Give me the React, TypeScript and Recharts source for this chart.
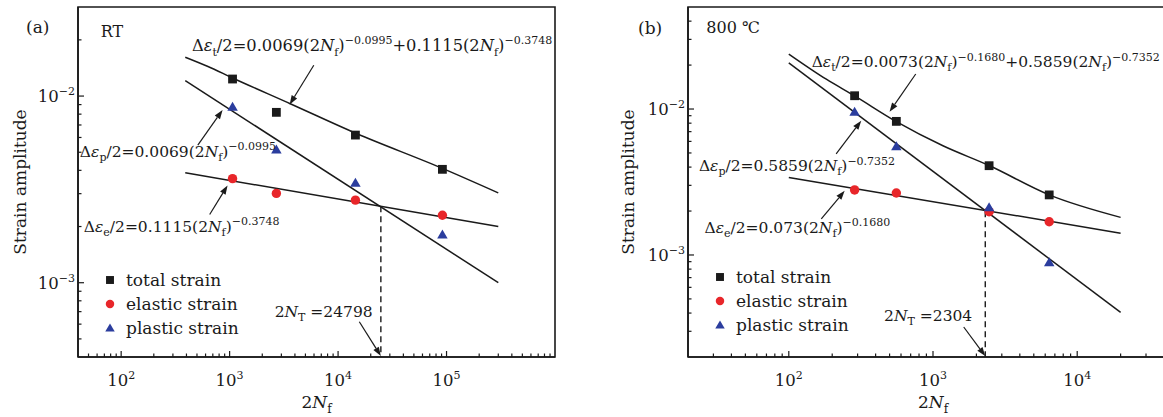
import React from 'react';
import {
  ComposedChart,
  Line,
  Scatter,
  XAxis,
  YAxis,
  ReferenceLine,
  ReferenceDot,
  ReferenceArea,
  Legend,
} from 'recharts';

const FONT = '"DejaVu Serif", serif';
const INK = '#1a1a1a';
const RED = '#e8262a';
const BLUE = '#2b3d9e';

// (a) RT — measured points
const nfA = [1064, 2698, 14450, 91600];
const totalA = [0.01234, 0.00818, 0.00618, 0.00405];
const elasticA = [0.00361, 0.00301, 0.00277, 0.0023];
const plasticA = [0.00877, 0.00518, 0.00343, 0.00181];
// (a) fitted lines
const fitNfA = [390, 300000];
const elasticFitA = [0.00388, 0.002];
const plasticFitA = [0.0121, 0.001];
const curveNfA = [390, 631, 1064, 3622, 14770, 91600, 300000];
const totalFitA = [0.01615, 0.0144, 0.0125, 0.0091, 0.0063, 0.0041, 0.00303];
const transA = { nf: 24798, strain: 0.00257 };

// (b) 800 ℃ — measured points
const nfB = [286, 557, 2449, 6395];
const totalB = [0.01233, 0.00823, 0.00409, 0.00258];
const elasticB = [0.00279, 0.00266, 0.00198, 0.00169];
const plasticB = [0.00958, 0.00555, 0.00212, 0.00089];
const fitNfB = [100, 20000];
const elasticFitB = [0.0034, 0.00141];
const plasticFitB = [0.0207, 0.000404];
const curveNfB = [100, 182, 286, 557, 1172, 2449, 6395, 20000];
const totalFitB = [0.0238, 0.016, 0.0123, 0.0082, 0.0056, 0.0041, 0.00258, 0.00181];
const transB = { nf: 2304, strain: 0.00199 };

const seriesOrder = ['total strain', 'elastic strain', 'plastic strain'];

const pts = (xs: number[], ys: number[]) => xs.map((x, i) => ({ x, y: ys[i] }));

const logTicks = (lo: number, hi: number) => {
  const out: number[] = [];
  for (let e = Math.floor(Math.log10(lo)); e <= Math.ceil(Math.log10(hi)); e++) {
    for (let m = 1; m <= 9; m++) {
      const v = Number((m * Math.pow(10, e)).toPrecision(6));
      if (v > lo * 1.0001 && v < hi * 0.9999) out.push(v);
    }
  }
  return out;
};
const isMajor = (v: number) => Math.abs(Math.log10(v) - Math.round(Math.log10(v))) < 1e-9;
const expLabel = (v: number) => {
  const e = Math.round(Math.log10(v));
  return e < 0 ? '\u2212' + Math.abs(e) : String(e);
};

// tiny markup: {i:x} italic, {_:x} subscript, {^:x} superscript
function Rich({ x, y, src, size = 16, anchor = 'start' }: any) {
  const parts: { t: string; k: string }[] = [];
  const re = /\{([i_^]):([^}]*)\}/g;
  let last = 0;
  let m: RegExpExecArray | null;
  while ((m = re.exec(src))) {
    if (m.index > last) parts.push({ t: src.slice(last, m.index), k: 'n' });
    parts.push({ t: m[2], k: m[1] });
    last = re.lastIndex;
  }
  if (last < src.length) parts.push({ t: src.slice(last), k: 'n' });
  let cur = 0;
  const small = Math.round(size * 0.68);
  return (
    <text x={x} y={y} fontFamily={FONT} fontSize={size} fill={INK} textAnchor={anchor}>
      {parts.map((p, i) => {
        const target = p.k === '_' ? size * 0.28 : p.k === '^' ? -size * 0.42 : 0;
        const dy = target - cur;
        cur = target;
        return (
          <tspan
            key={i}
            dy={dy}
            fontStyle={p.k === 'i' ? 'italic' : undefined}
            fontSize={p.k === '_' || p.k === '^' ? small : undefined}
          >
            {p.t}
          </tspan>
        );
      })}
    </text>
  );
}

const XTick = ({ x, y, payload }: any) => {
  const major = isMajor(payload.value);
  return (
    <g>
      <line x1={x} x2={x} y1={y} y2={y - (major ? 6 : 3.5)} stroke={INK} strokeWidth={1.2} />
      {major && (
        <text x={x} y={y + 29} textAnchor="middle" fontFamily={FONT} fontSize={16.5} fill={INK}>
          10<tspan dy={-7} fontSize={11}>{expLabel(payload.value)}</tspan>
        </text>
      )}
    </g>
  );
};

const YTick = ({ x, y, payload }: any) => {
  const major = isMajor(payload.value);
  return (
    <g>
      <line x1={x} x2={x + (major ? 6 : 3.5)} y1={y} y2={y} stroke={INK} strokeWidth={1.2} />
      {major && (
        <text x={x - 3} y={y + 6} textAnchor="end" fontFamily={FONT} fontSize={16.5} fill={INK}>
          10<tspan dy={-7} fontSize={11}>{expLabel(payload.value)}</tspan>
        </text>
      )}
    </g>
  );
};

const marker = (type: string, cx: number, cy: number, s = 1) => {
  if (type === 'square') {
    const h = 4.4 * s;
    return <rect x={cx - h} y={cy - h} width={2 * h} height={2 * h} fill={INK} />;
  }
  if (type === 'circle') return <circle cx={cx} cy={cy} r={4.7 * s} fill={RED} />;
  const h = 5 * s;
  return (
    <polygon
      points={`${cx},${cy - h} ${cx + h * 1.05},${cy + h * 0.8} ${cx - h * 1.05},${cy + h * 0.8}`}
      fill={BLUE}
    />
  );
};

const Arrow = (p: any) => {
  const { x1, y1, x2, y2 } = p;
  const a = Math.atan2(y2 - y1, x2 - x1);
  const L = 9;
  const W = 3.2;
  const bx = x2 - L * Math.cos(a);
  const by = y2 - L * Math.sin(a);
  const tri = `${x2},${y2} ${bx + W * Math.sin(a)},${by - W * Math.cos(a)} ${bx - W * Math.sin(a)},${by + W * Math.cos(a)}`;
  return (
    <g>
      <line x1={x1} y1={y1} x2={bx} y2={by} stroke={INK} strokeWidth={1.2} />
      <polygon points={tri} fill={INK} />
    </g>
  );
};

const LegendBox = ({ payload }: any) => {
  const items = (payload || [])
    .filter((e: any) => e.type !== 'none')
    .slice()
    .sort((a: any, b: any) => seriesOrder.indexOf(a.value) - seriesOrder.indexOf(b.value));
  return (
    <div style={{ fontFamily: FONT, fontSize: 17, color: INK }}>
      {items.map((e: any) => (
        <div key={e.value} style={{ display: 'flex', alignItems: 'center', height: 24 }}>
          <svg width={14} height={14} style={{ flex: 'none' }}>
            {marker(e.type, 7, 7, 0.9)}
          </svg>
          <span style={{ marginLeft: 9, whiteSpace: 'nowrap' }}>{e.value}</span>
        </div>
      ))}
    </div>
  );
};

const panels = [
  {
    key: 'a',
    left: 0,
    width: 583,
    right: 28,
    yAxisW: 78,
    yTitleX: 20,
    xDom: [40, 1e6],
    yDom: [4e-4, 3e-2],
    legend: { left: 103, top: 268 },
    total: pts(nfA, totalA),
    elastic: pts(nfA, elasticA),
    plastic: pts(nfA, plasticA),
    totalFit: pts(curveNfA, totalFitA),
    elasticFit: pts(fitNfA, elasticFitA),
    plasticFit: pts(fitNfA, plasticFitA),
    trans: transA,
    notes: [
      { x: 64.7, y: 0.0207, src: 'RT', size: 16 },
      { x: 449, y: 0.01738, src: 'Δ{i:ε}{_:t}/2=0.0069(2{i:N}{_:f}){^:−0.0995}+0.1115(2{i:N}{_:f}){^:−0.3748}', size: 16.3 },
      { x: 41.6, y: 0.00474, src: 'Δ{i:ε}{_:p}/2=0.0069(2{i:N}{_:f}){^:−0.0995}' },
      { x: 45.2, y: 0.00188, src: 'Δ{i:ε}{_:e}/2=0.1115(2{i:N}{_:f}){^:−0.3748}' },
      { x: 2600, y: 6.57e-4, src: '2{i:N}{_:T} =24798' },
    ],
    arrows: [
      [5970, 0.01462, 3580, 0.00902],
      [509, 0.00546, 861, 0.00841],
      [655, 0.00232, 957, 0.00332],
      [15700, 6.18e-4, 24798, 4.05e-4],
    ],
  },
  {
    key: 'b',
    left: 583,
    width: 620,
    right: 25,
    yAxisW: 105,
    yTitleX: 45,
    xDom: [20, 5e4],
    yDom: [2e-4, 5e-2],
    legend: { left: 130, top: 265 },
    total: pts(nfB, totalB),
    elastic: pts(nfB, elasticB),
    plastic: pts(nfB, plasticB),
    totalFit: pts(curveNfB, totalFitB),
    elasticFit: pts(fitNfB, elasticFitB),
    plasticFit: pts(fitNfB, plasticFitB),
    trans: transB,
    notes: [
      { x: 26.8, y: 0.0332, src: '800 ℃', size: 16 },
      { x: 144, y: 0.0194, src: 'Δ{i:ε}{_:t}/2=0.0073(2{i:N}{_:f}){^:−0.1680}+0.5859(2{i:N}{_:f}){^:−0.7352}' },
      { x: 23.8, y: 0.00376, src: 'Δ{i:ε}{_:p}/2=0.5859(2{i:N}{_:f}){^:−0.7352}' },
      { x: 26, y: 0.001416, src: 'Δ{i:ε}{_:e}/2=0.073(2{i:N}{_:f}){^:−0.1680}' },
      { x: 458, y: 3.53e-4, src: '2{i:N}{_:T} =2304' },
    ],
    arrows: [
      [759, 0.01738, 500, 0.00958],
      [213, 0.00492, 318, 0.00832],
      [168, 0.001766, 244, 0.00275],
      [1633, 3.21e-4, 2304, 2.03e-4],
    ],
  },
];

function Panel({ p }: any) {
  const xTicks = logTicks(p.xDom[0], p.xDom[1]);
  const yTicks = logTicks(p.yDom[0], p.yDom[1]);
  return (
    <ComposedChart
      width={p.width}
      height={417}
      margin={{ top: 7, right: p.right, bottom: 0, left: 0 }}
    >
      <XAxis
        type="number"
        dataKey="x"
        scale="log"
        domain={p.xDom}
        allowDataOverflow
        ticks={xTicks}
        interval={0}
        tick={(t: any) => <XTick {...t} />}
        tickSize={0}
        tickMargin={0}
        tickLine={false}
        axisLine={{ stroke: INK, strokeWidth: 1.6 }}
        height={60}
        label={(l: any) => {
          const vb = l.viewBox || {};
          return (
            <Rich x={vb.x + vb.width / 2} y={vb.y + 51} src="2{i:N}{_:f}" size={17} anchor="middle" />
          );
        }}
      />
      <YAxis
        type="number"
        dataKey="y"
        scale="log"
        domain={p.yDom}
        allowDataOverflow
        ticks={yTicks}
        interval={0}
        tick={(t: any) => <YTick {...t} />}
        tickSize={0}
        tickMargin={0}
        tickLine={false}
        axisLine={{ stroke: INK, strokeWidth: 1.6 }}
        width={p.yAxisW}
        label={(l: any) => {
          const vb = l.viewBox || {};
          const cy = vb.y + vb.height / 2;
          return (
            <text
              x={p.yTitleX}
              y={cy}
              transform={`rotate(-90 ${p.yTitleX} ${cy})`}
              textAnchor="middle"
              dominantBaseline="central"
              fontFamily={FONT}
              fontSize={17}
              fill={INK}
            >
              Strain amplitude
            </text>
          );
        }}
      />
      <ReferenceArea
        x1={p.xDom[0]}
        x2={p.xDom[1]}
        y1={p.yDom[0]}
        y2={p.yDom[1]}
        fill="none"
        fillOpacity={0}
        stroke={INK}
        strokeWidth={1.6}
        ifOverflow="visible"
      />
      <Line data={p.totalFit} dataKey="y" type="monotone" stroke={INK} strokeWidth={1.5} dot={false} legendType="none" isAnimationActive={false} />
      <Line data={p.elasticFit} dataKey="y" type="linear" stroke={INK} strokeWidth={1.5} dot={false} legendType="none" isAnimationActive={false} />
      <Line data={p.plasticFit} dataKey="y" type="linear" stroke={INK} strokeWidth={1.5} dot={false} legendType="none" isAnimationActive={false} />
      <ReferenceLine
        segment={[
          { x: p.trans.nf, y: p.trans.strain },
          { x: p.trans.nf, y: p.yDom[0] },
        ]}
        stroke={INK}
        strokeWidth={1.4}
        strokeDasharray="6 4"
        ifOverflow="visible"
      />
      <Scatter name="total strain" data={p.total} fill={INK} legendType="square" isAnimationActive={false} shape={(s: any) => marker('square', s.cx, s.cy)} />
      <Scatter name="elastic strain" data={p.elastic} fill={RED} legendType="circle" isAnimationActive={false} shape={(s: any) => marker('circle', s.cx, s.cy)} />
      <Scatter name="plastic strain" data={p.plastic} fill={BLUE} legendType="triangle" isAnimationActive={false} shape={(s: any) => marker('triangle', s.cx, s.cy)} />
      {p.arrows.map((a: number[], i: number) => (
        <ReferenceLine
          key={'ar' + i}
          segment={[
            { x: a[0], y: a[1] },
            { x: a[2], y: a[3] },
          ]}
          ifOverflow="visible"
          shape={(s: any) => <Arrow {...s} />}
        />
      ))}
      {p.notes.map((n: any, i: number) => (
        <ReferenceDot
          key={'n' + i}
          x={n.x}
          y={n.y}
          r={0}
          ifOverflow="visible"
          shape={(s: any) => <Rich x={s.cx} y={s.cy} src={n.src} size={n.size || 15.5} />}
        />
      ))}
      <Legend
        layout="horizontal"
        verticalAlign="middle"
        align="center"
        wrapperStyle={{ left: p.legend.left, top: p.legend.top, width: 160 }}
        content={(lp: any) => <LegendBox payload={lp.payload} />}
      />
    </ComposedChart>
  );
}

export default function App() {
  return (
    <div
      style={{
        position: 'absolute',
        left: 0,
        top: 0,
        width: 1163,
        height: 417,
        overflow: 'hidden',
        background: '#fff',
      }}
    >
      {panels.map((p) => (
        <div key={p.key} style={{ position: 'absolute', left: p.left, top: 0 }}>
          <Panel p={p} />
        </div>
      ))}
      <svg width={1163} height={60} style={{ position: 'absolute', left: 0, top: 0, pointerEvents: 'none' }}>
        <text x={26} y={33} fontFamily={FONT} fontSize={17} fill={INK}>(a)</text>
        <text x={638} y={34} fontFamily={FONT} fontSize={17} fill={INK}>(b)</text>
      </svg>
    </div>
  );
}
